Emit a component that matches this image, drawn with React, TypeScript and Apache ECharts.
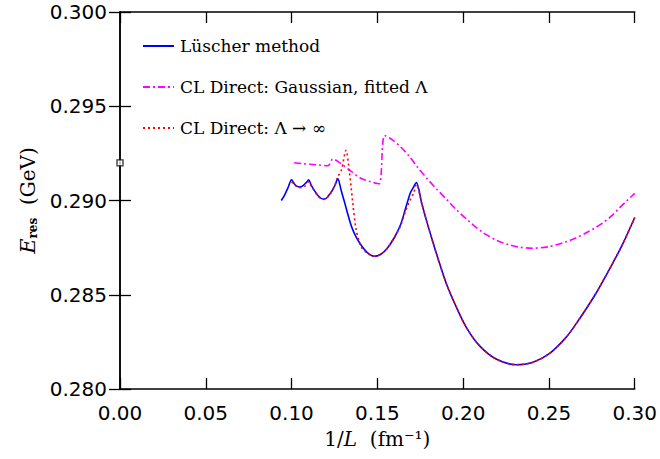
import React, { useEffect, useRef } from "react";
import * as echarts from "echarts";

// Axis ranges and ticks
const X_MIN = 0;
const X_MAX = 0.3;
const X_STEP = 0.05;
const Y_MIN = 0.28;
const Y_MAX = 0.3;
const Y_STEP = 0.005;

// Series names
const NAME_LUSCHER = "Lüscher method";
const NAME_GAUSS = "CL Direct: Gaussian, fitted Λ";
const NAME_INF = "CL Direct: Λ → ∞";

// Lüscher method (blue, solid)
const luscher: [number, number][] = [
  [0.094, 0.29], [0.096, 0.2903], [0.098, 0.2907], [0.1, 0.2911],
  [0.1015, 0.2909], [0.103, 0.29076], [0.1048, 0.29072], [0.1065, 0.29078],
  [0.1085, 0.29095], [0.11, 0.2911], [0.1115, 0.2908], [0.1135, 0.2905],
  [0.1155, 0.29025], [0.1175, 0.2901], [0.1195, 0.29008], [0.1215, 0.29025],
  [0.1235, 0.2905], [0.1255, 0.29085], [0.1269, 0.29116], [0.129, 0.2905],
  [0.1308, 0.28993], [0.133, 0.2892], [0.135, 0.2886], [0.1375, 0.28808],
  [0.1404, 0.28765], [0.144, 0.28725], [0.1481, 0.28704], [0.152, 0.28715],
  [0.1558, 0.28747], [0.16, 0.28805], [0.1635, 0.28871], [0.1665, 0.2896],
  [0.1692, 0.2904], [0.171, 0.2907], [0.1727, 0.29095], [0.176, 0.2898],
  [0.1788, 0.28888], [0.182, 0.2879], [0.1846, 0.28713], [0.1904, 0.28554],
  [0.1962, 0.28431], [0.2019, 0.28326], [0.2096, 0.28229], [0.2192, 0.28159],
  [0.2308, 0.28129], [0.2404, 0.28141], [0.25, 0.28186], [0.2596, 0.2827],
  [0.2654, 0.2834], [0.2769, 0.285], [0.2885, 0.2869], [0.2933, 0.28775],
  [0.3, 0.2891],
];

// CL Direct, Lambda -> infinity (red, dotted)
const clInfinite: [number, number][] = [
  [0.1, 0.291], [0.102, 0.2908], [0.1048, 0.29068], [0.1077, 0.29075],
  [0.11, 0.291], [0.1115, 0.29078], [0.1135, 0.29048], [0.1155, 0.29022],
  [0.1175, 0.29008], [0.1195, 0.29006], [0.1215, 0.29022], [0.1235, 0.2905],
  [0.1255, 0.29088], [0.1269, 0.29125], [0.129, 0.2916], [0.1317, 0.29266],
  [0.1337, 0.29151], [0.1356, 0.28993], [0.1375, 0.28853], [0.1404, 0.28756],
  [0.144, 0.28722], [0.1481, 0.28704], [0.152, 0.28715], [0.1558, 0.28747],
  [0.16, 0.28805], [0.1635, 0.28865], [0.1665, 0.28945], [0.1692, 0.29005],
  [0.1712, 0.2904], [0.1727, 0.29085], [0.176, 0.2898], [0.1788, 0.28888],
  [0.182, 0.2879], [0.1846, 0.28713], [0.1904, 0.28554], [0.1962, 0.28431],
  [0.2019, 0.28326], [0.2096, 0.28229], [0.2192, 0.28159], [0.2308, 0.28129],
  [0.2404, 0.28141], [0.25, 0.28186], [0.2596, 0.2827], [0.2654, 0.2834],
  [0.2769, 0.285], [0.2885, 0.2869], [0.2933, 0.28775], [0.3, 0.2891],
];

// CL Direct, Gaussian with fitted Lambda (magenta, dash-dot)
const clGaussian: [number, number][] = [
  [0.1015, 0.292], [0.106, 0.29196], [0.111, 0.29192], [0.116, 0.29188],
  [0.1212, 0.29184], [0.124, 0.2922], [0.1288, 0.29195], [0.134, 0.2916],
  [0.1404, 0.29118], [0.146, 0.291], [0.151, 0.29088], [0.1542, 0.29345],
  [0.159, 0.2932], [0.1635, 0.29285], [0.169, 0.2923], [0.1731, 0.2918],
  [0.1788, 0.29118], [0.1846, 0.2906], [0.1904, 0.29005], [0.1962, 0.2895],
  [0.204, 0.28885], [0.2115, 0.2883], [0.2192, 0.2879], [0.2269, 0.28765],
  [0.233, 0.28752], [0.2404, 0.28747], [0.25, 0.28755], [0.2596, 0.2878],
  [0.2654, 0.288], [0.272, 0.2883], [0.2769, 0.28855], [0.282, 0.28885],
  [0.2865, 0.28918], [0.291, 0.2896], [0.2952, 0.28997], [0.3, 0.29038],
];

// Single marker on the axis
const markerPoint: [number, number][] = [[0.0, 0.2920]];

const SANS = "'DejaVu Sans', sans-serif";
const SERIF = "'DejaVu Serif', serif";

export default function App() {
  const ref = useRef<HTMLDivElement>(null);

  useEffect(() => {
    if (!ref.current) return;
    const chart = echarts.init(ref.current, undefined, { renderer: "svg" });
    const axisLine = { show: true, lineStyle: { color: "#000", width: 1.5 } };
    const axisTick = { show: true, inside: true, length: 11, lineStyle: { color: "#000", width: 1.3 } };

    chart.setOption({
      animation: false,
      backgroundColor: "#fff",
      grid: { left: 120, right: 20, top: 12, bottom: 70, containLabel: false },
      legend: {
        left: 137,
        top: 31,
        orient: "vertical",
        itemWidth: 31,
        itemHeight: 14,
        itemGap: 21,
        data: [NAME_LUSCHER, NAME_GAUSS, NAME_INF],
        itemStyle: { opacity: 0, borderWidth: 0 },
        textStyle: { fontFamily: SERIF, fontSize: 17, color: "#000", lineHeight: 20, padding: [0, 0, 0, 1] },
      },
      xAxis: [
        {
          type: "value",
          min: X_MIN,
          max: X_MAX,
          interval: X_STEP,
          position: "bottom",
          axisLine,
          axisTick,
          splitLine: { show: false },
          axisLabel: {
            margin: 14,
            fontFamily: SANS,
            fontSize: 20,
            color: "#000",
            formatter: (v: number) => v.toFixed(2),
          },
          name: "{n|1/}{i|L}{n|  (fm⁻¹)}",
          nameLocation: "middle",
          nameGap: 40,
          nameTextStyle: {
            rich: {
              n: { fontFamily: SERIF, fontSize: 20, color: "#000" },
              i: { fontFamily: SERIF, fontSize: 20, fontStyle: "italic", color: "#000" },
            },
          },
        },
        {
          type: "value",
          min: X_MIN,
          max: X_MAX,
          interval: X_STEP,
          position: "top",
          axisLine,
          axisTick,
          axisLabel: { show: false },
          splitLine: { show: false },
        },
      ],
      yAxis: [
        {
          type: "value",
          min: Y_MIN,
          max: Y_MAX,
          interval: Y_STEP,
          position: "left",
          axisLine,
          axisTick,
          splitLine: { show: false },
          axisLabel: {
            margin: 13,
            fontFamily: SANS,
            fontSize: 20,
            lineHeight: 16,
            color: "#000",
            formatter: (v: number) => v.toFixed(3),
          },
          name: "{e|E}{s|res}{n|  (GeV)}",
          nameLocation: "middle",
          nameGap: 80,
          nameTextStyle: {
            rich: {
              e: { fontFamily: SERIF, fontSize: 21, fontStyle: "italic", color: "#000" },
              s: { fontFamily: SERIF, fontSize: 12, fontWeight: "bold", color: "#000", verticalAlign: "bottom", padding: [8, 0, 0, 0] },
              n: { fontFamily: SERIF, fontSize: 20, color: "#000" },
            },
          },
        },
        {
          type: "value",
          min: Y_MIN,
          max: Y_MAX,
          interval: Y_STEP,
          position: "right",
          axisLine,
          axisTick,
          axisLabel: { show: false },
          splitLine: { show: false },
        },
      ],
      series: [
        {
          name: NAME_LUSCHER,
          type: "line",
          data: luscher,
          showSymbol: false,
          symbol: "none",
          smooth: 0.3,
          lineStyle: { color: "#0000ff", width: 1.6, type: "solid" },
          itemStyle: { color: "#0000ff" },
          z: 3,
        },
        {
          name: NAME_GAUSS,
          type: "line",
          data: clGaussian,
          showSymbol: false,
          symbol: "none",
          smooth: 0.3,
          lineStyle: { color: "#ff00ff", width: 1.6, type: [7, 3, 2, 3] },
          itemStyle: { color: "#ff00ff" },
          z: 2,
        },
        {
          name: NAME_INF,
          type: "line",
          data: clInfinite,
          showSymbol: false,
          symbol: "none",
          smooth: 0.3,
          lineStyle: { color: "#ff0000", width: 1.6, type: [2, 3] },
          itemStyle: { color: "#ff0000" },
          z: 4,
        },
        {
          name: "marker",
          type: "scatter",
          data: markerPoint,
          symbol: "rect",
          symbolSize: 6,
          clip: false,
          itemStyle: { color: "#fff", borderColor: "#000", borderWidth: 1.3 },
          z: 5,
        },
      ],
    });

    return () => chart.dispose();
  }, []);

  return <div ref={ref} style={{ width: 660, height: 459, position: "absolute", left: 0, top: 0 }} />;
}
